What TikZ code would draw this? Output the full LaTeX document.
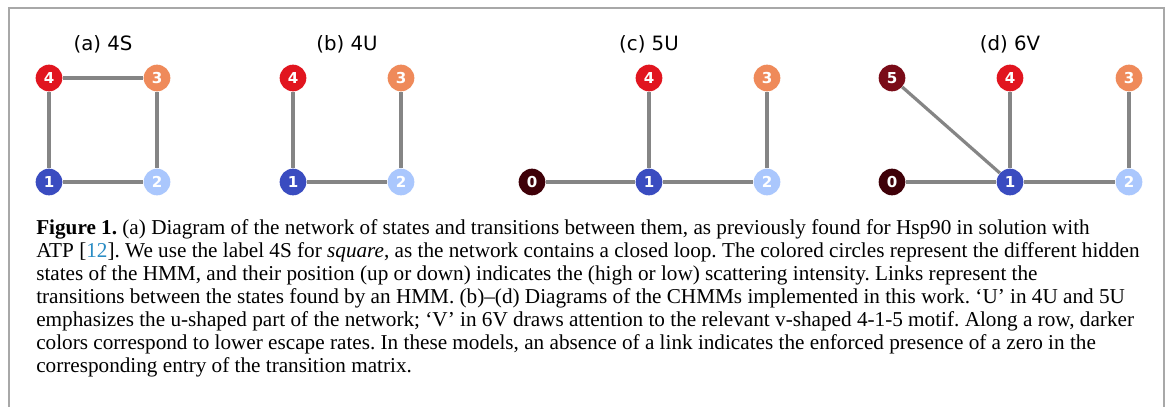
\documentclass[tikz,border=0pt]{standalone}
\usepackage{fontspec}
\setmainfont{Liberation Serif}
\newfontfamily\dejavu{DejaVu Sans}
\newfontfamily\dejavubold{DejaVu Sans Bold}
\frenchspacing
\definecolor{cZero}{HTML}{3F0008}
\definecolor{cOne}{HTML}{3A4CC0}
\definecolor{cTwo}{HTML}{AAC7FD}
\definecolor{cThree}{HTML}{EF8A5A}
\definecolor{cFour}{HTML}{E1151F}
\definecolor{cFive}{HTML}{7A0C18}
\definecolor{edgegray}{HTML}{858585}
\definecolor{framegray}{HTML}{A8A8A8}
\definecolor{citeblue}{HTML}{2A8CC4}
\tikzset{
  state/.style={circle, minimum size=20pt, inner sep=0pt, text=white,
    font=\dejavubold\fontsize{11.3}{12}\selectfont},
  link/.style={draw=edgegray, line width=2.4pt},
  paneltitle/.style={font=\dejavu\fontsize{14.8}{16}\selectfont, anchor=center},
  capline/.style={anchor=base west, inner sep=0pt, font=\fontsize{15.9}{18}\selectfont\frenchspacing}
}
\begin{document}
\begin{tikzpicture}[x=0.75pt,y=-0.75pt]
\useasboundingbox (0,0) rectangle (1168,407);
\fill[white] (0,0) rectangle (1168,407);
% frame, open at the bottom
\draw[framegray, line width=1.2pt] (9,407) -- (9,8) -- (1164,8) -- (1164,407);

% (a) 4S
\node[paneltitle] (ta) at (103,44) {(a) 4S};
\node[state, fill=cFour]  (a4) at (49,78)  {4};
\node[state, fill=cThree] (a3) at (157,78) {3};
\node[state, fill=cOne]   (a1) at (49,182) {1};
\node[state, fill=cTwo]   (a2) at (157,182) {2};
\draw[link] (a4) -- (a3);
\draw[link] (a3) -- (a2);
\draw[link] (a2) -- (a1);
\draw[link] (a1) -- (a4);

% (b) 4U
\node[paneltitle] (tb) at (347,44) {(b) 4U};
\node[state, fill=cFour]  (b4) at (293,78)  {4};
\node[state, fill=cThree] (b3) at (401,78)  {3};
\node[state, fill=cOne]   (b1) at (293,182) {1};
\node[state, fill=cTwo]   (b2) at (401,182) {2};
\draw[link] (b4) -- (b1);
\draw[link] (b1) -- (b2);
\draw[link] (b2) -- (b3);

% (c) 5U
\node[paneltitle] (tc) at (649,44) {(c) 5U};
\node[state, fill=cZero]  (c0) at (532,182) {0};
\node[state, fill=cOne]   (c1) at (649,182) {1};
\node[state, fill=cTwo]   (c2) at (767,182) {2};
\node[state, fill=cThree] (c3) at (767,78)  {3};
\node[state, fill=cFour]  (c4) at (649,78)  {4};
\draw[link] (c0) -- (c1);
\draw[link] (c1) -- (c2);
\draw[link] (c1) -- (c4);
\draw[link] (c2) -- (c3);

% (d) 6V
\node[paneltitle] (td) at (1010,44) {(d) 6V};
\node[state, fill=cZero]  (d0) at (892,182)  {0};
\node[state, fill=cOne]   (d1) at (1010,182) {1};
\node[state, fill=cTwo]   (d2) at (1129,182) {2};
\node[state, fill=cThree] (d3) at (1129,78)  {3};
\node[state, fill=cFour]  (d4) at (1010,78)  {4};
\node[state, fill=cFive]  (d5) at (892,78)   {5};
\draw[link] (d0) -- (d1);
\draw[link] (d1) -- (d2);
\draw[link] (d1) -- (d4);
\draw[link] (d1) -- (d5);
\draw[link] (d2) -- (d3);

% caption
\node[capline] (cap1) at (36,234) {\textbf{Figure 1.} (a) Diagram of the network of states and transitions between them, as previously found for Hsp90 in solution with};
\node[capline] (cap2) at (36,257) {ATP [\textcolor{citeblue}{12}]. We use the label 4S for \textit{square}, as the network contains a closed loop. The colored circles represent the different hidden};
\node[capline] (cap3) at (36,280) {states of the HMM, and their position (up or down) indicates the (high or low) scattering intensity. Links represent the};
\node[capline] (cap4) at (36,303) {transitions between the states found by an HMM. (b)--(d) Diagrams of the CHMMs implemented in this work. ‘U’ in 4U and 5U};
\node[capline] (cap5) at (36,326) {emphasizes the u-shaped part of the network; ‘V’ in 6V draws attention to the relevant v-shaped 4-1-5 motif. Along a row, darker};
\node[capline] (cap6) at (36,349) {colors correspond to lower escape rates. In these models, an absence of a link indicates the enforced presence of a zero in the};
\node[capline] (cap7) at (36,372) {corresponding entry of the transition matrix.};
\end{tikzpicture}
\end{document}
